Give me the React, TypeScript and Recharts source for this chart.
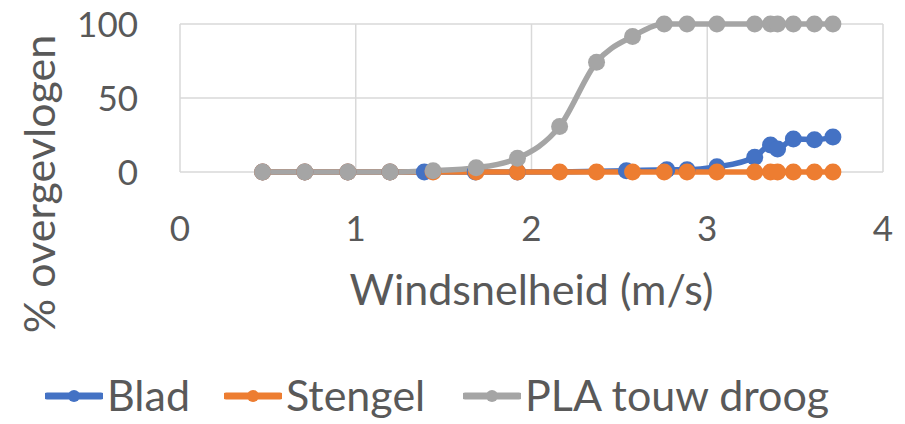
import { LineChart, Line, XAxis, YAxis, CartesianGrid, Legend, Label } from 'recharts';

const bladX = [0.47, 0.71, 0.955, 1.195, 1.39, 1.68, 1.92, 2.54, 2.77, 2.885, 3.055, 3.27, 3.36, 3.4, 3.49, 3.61, 3.715];
const bladY = [0, 0, 0, 0, 0, 0, 0, 0.8, 1.5, 1.5, 3.5, 10, 18.2, 15.5, 22.3, 21.8, 23.6];

const stengelX = [0.47, 0.71, 0.955, 1.195, 1.44, 1.685, 1.92, 2.16, 2.37, 2.575, 2.755, 2.885, 3.055, 3.27, 3.36, 3.4, 3.49, 3.61, 3.715];
const stengelY = [0, 0, 0, 0, 0, 0, 0, 0, 0, 0, 0, 0, 0, 0, 0, 0, 0, 0, 0];

const plaX = [0.47, 0.71, 0.955, 1.195, 1.44, 1.685, 1.92, 2.16, 2.37, 2.575, 2.755, 2.885, 3.055, 3.27, 3.36, 3.4, 3.49, 3.61, 3.715];
const plaY = [0, 0, 0, 0, 0.9, 2.9, 9.3, 30.8, 74.2, 91.6, 100, 100, 100, 100, 100, 100, 100, 100, 100];

const xTicks = [0, 1, 2, 3, 4];
const yTicks = [0, 50, 100];

const toRows = (xs: number[], ys: number[]) => xs.map((x, i) => ({ x, y: ys[i] }));

const series = [
  { name: 'Blad', color: '#4472C4', data: toRows(bladX, bladY) },
  { name: 'Stengel', color: '#ED7D31', data: toRows(stengelX, stengelY) },
  { name: 'PLA touw droog', color: '#A5A5A5', data: toRows(plaX, plaY) },
];

const FONT = 'Lato, sans-serif';
const TEXT = '#595959';

const XTick = ({ x, y, payload }: any) => (
  <text x={x} y={y + 69} textAnchor="middle" fill={TEXT} fontSize={35} fontFamily={FONT}>
    {payload.value}
  </text>
);

// right edge of the y tick labels sits at 138px
const YTick = ({ y, payload }: any) => (
  <text x={138} y={y + 12.5} textAnchor="end" fill={TEXT} fontSize={35} fontFamily={FONT}>
    {payload.value}
  </text>
);

const legendLeft = [45, 224, 463];

const LegendContent = () => (
  <div style={{ position: 'relative', height: 60, width: 905 }}>
    {series.map((s, i) => (
      <div
        key={s.name}
        style={{
          position: 'absolute',
          left: legendLeft[i],
          top: 0,
          height: 60,
          display: 'flex',
          alignItems: 'center',
          fontFamily: FONT,
          fontSize: 43,
          color: TEXT,
          whiteSpace: 'nowrap',
        }}
      >
        <svg width={58} height={16} style={{ marginRight: 4, marginTop: 4 }}>
          <line x1={2} y1={8} x2={56} y2={8} stroke={s.color} strokeWidth={7} strokeLinecap="round" />
          <circle cx={29} cy={8} r={6} fill={s.color} />
        </svg>
        <span>{s.name}</span>
      </div>
    ))}
  </div>
);

export default function App() {
  return (
    <div style={{ position: 'absolute', left: 0, top: 0, width: 905, height: 424, background: '#fff' }}>
      <LineChart width={905} height={424} margin={{ top: 24, right: 22, bottom: 0, left: 0 }}>
        <CartesianGrid stroke="#d9d9d9" strokeWidth={1.5} />
        <XAxis
          type="number"
          dataKey="x"
          domain={[0, 4]}
          ticks={xTicks}
          allowDuplicatedCategory={false}
          axisLine={false}
          tickLine={false}
          tickSize={0}
          tickMargin={0}
          height={192}
          tick={<XTick />}
        >
          <Label
            content={() => (
              <text x={531.5} y={305} textAnchor="middle" fill={TEXT} fontSize={43} fontFamily={FONT}>
                Windsnelheid (m/s)
              </text>
            )}
          />
        </XAxis>
        <YAxis
          type="number"
          domain={[0, 100]}
          ticks={yTicks}
          axisLine={false}
          tickLine={false}
          tickSize={0}
          tickMargin={0}
          width={180}
          tick={<YTick />}
        >
          <Label
            content={() => (
              <text
                transform="translate(55,184) rotate(-90)"
                textAnchor="middle"
                fill={TEXT}
                fontSize={43}
                fontFamily={FONT}
              >
                % overgevlogen
              </text>
            )}
          />
        </YAxis>
        <Legend verticalAlign="bottom" align="left" content={<LegendContent />} wrapperStyle={{ left: 0, width: 905 }} />
        {series.map((s) => (
          <Line
            key={s.name}
            data={s.data}
            dataKey="y"
            name={s.name}
            type="monotone"
            stroke={s.color}
            strokeWidth={5.5}
            dot={{ r: 8.5, fill: s.color, stroke: s.color, strokeWidth: 0 }}
            activeDot={false}
            isAnimationActive={false}
          />
        ))}
      </LineChart>
    </div>
  );
}
